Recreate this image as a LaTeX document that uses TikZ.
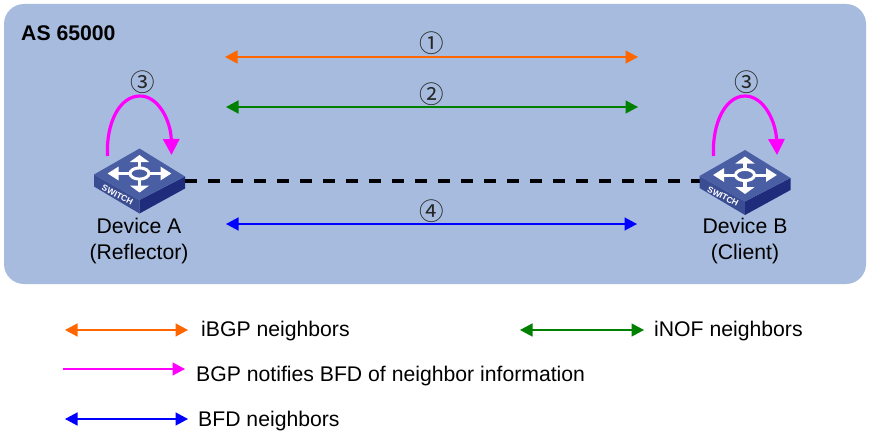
\documentclass[tikz,border=0pt]{standalone}
\usepackage{fontspec}
\setmainfont{Liberation Sans}
\newfontfamily\circfont{Noto Sans CJK SC}
\usetikzlibrary{arrows.meta}
\definecolor{panelblue}{HTML}{A6BBDD}
\definecolor{swtop}{HTML}{4A5EA3}
\definecolor{swleft}{HTML}{3A4C92}
\definecolor{swright}{HTML}{1F2B7B}
\definecolor{ibgporange}{HTML}{FF6600}
\definecolor{inofgreen}{HTML}{008000}
\definecolor{notifypink}{HTML}{FF00FF}
\definecolor{bfdblue}{HTML}{0000FF}
\begin{document}
\begin{tikzpicture}[
  x=1pt,
  y=-1pt,
  font=\fontsize{21.2}{26}\selectfont,
  panel/.style={fill=panelblue, rounded corners=20pt},
  both/.style={line width=1.5pt, {Triangle[length=12.5pt,width=13pt]}-{Triangle[length=12.5pt,width=13pt]}},
  one/.style={line width=1.5pt, -{Triangle[length=12.5pt,width=13pt]}},
  notify/.style={notifypink, line width=3.2pt, -{Triangle[length=16pt,width=16pt]}},
  link/.style={black, line width=3.6pt, dash pattern=on 12pt off 11pt},
  step label/.style={font=\circfont\fontsize{24.5}{26}\selectfont, text=black!85},
  device/.style={align=center, inner sep=0pt},
  legend/.style={anchor=west, inner sep=0pt},
  warrowv/.style={white, line width=3.4pt, -{Triangle[length=7pt,width=19pt]}},
  warrowh/.style={white, line width=3pt, -{Triangle[length=11pt,width=13pt]}},
  switchicon/.pic={
    \fill[swleft] (-45.5,0) -- (0,25.5) -- (0,39) -- (-45.5,12) -- cycle;
    \fill[swright] (45.5,2) -- (0,25.5) -- (0,39) -- (45.5,14) -- cycle;
    \fill[swtop] (0,-26) -- (45.5,2) -- (0,25.5) -- (-45.5,0) -- cycle;
    \draw[warrowv] (0,-7) -- (0,-19.5);
    \draw[warrowv] (0,5) -- (0,18);
    \draw[warrowh] (-10,-1) -- (-32,-1);
    \draw[warrowh] (10,-1) -- (32,-1);
    \draw[white, line width=3pt] (0,-1) ellipse (9.5pt and 5.6pt);
    \node[white, rotate=-27, font=\bfseries\fontsize{8.5}{9}\selectfont, inner sep=0pt] (-name) at (-22,20.5) {SWITCH};
  },
]
  \useasboundingbox (0,0) rectangle (870,436);
  \fill[panel] (4,4) rectangle (866,284);
  \node[anchor=west, inner sep=0pt, font=\bfseries\fontsize{21.2}{26}\selectfont] (asname) at (21,33) {AS 65000};

  % devices
  \coordinate (linka) at (185,181);
  \coordinate (linkb) at (700,181);
  \draw[link] (linka) -- (linkb);
  \pic (deva) at (139.5,174.5) {switchicon};
  \pic (devb) at (745,176) {switchicon};
  \node[device] (devalabel) at (139,241) {Device A\\(Reflector)};
  \node[device] (devblabel) at (745,241) {Device B\\(Client)};

  % neighbor arrows
  \coordinate (ibgpl) at (225,57);
  \coordinate (ibgpr) at (638,57);
  \coordinate (inofl) at (226,107);
  \coordinate (inofr) at (638,107);
  \coordinate (bfdl) at (226,224);
  \coordinate (bfdr) at (637,224);
  \draw[both, ibgporange] (ibgpl) -- (ibgpr);
  \draw[both, inofgreen] (inofl) -- (inofr);
  \draw[both, bfdblue] (bfdl) -- (bfdr);
  \node[step label] (stepa) at (431.5,43) {①};
  \node[step label] (stepb) at (431.5,94) {②};
  \node[step label] (stepd) at (431.5,211) {④};

  % notify curves
  \coordinate (notastart) at (107.5,156);
  \coordinate (notaend) at (171.5,155);
  \coordinate (notbstart) at (713.5,156);
  \coordinate (notbend) at (777,155);
  \draw[notify] (notastart) .. controls (106,122) and (120,96) .. (140,96) .. controls (159,96) and (171,122) .. (notaend);
  \draw[notify] (notbstart) .. controls (712,122) and (726,96) .. (745,96) .. controls (764,96) and (776,122) .. (notbend);
  \node[step label] (stepca) at (143,82) {③};
  \node[step label] (stepcb) at (746.5,82) {③};

  % legend
  \coordinate (legibgpl) at (65,330);
  \coordinate (legibgpr) at (188,330);
  \coordinate (leginofl) at (520,330);
  \coordinate (leginofr) at (644,330);
  \coordinate (legnotl) at (63,369);
  \coordinate (legnotr) at (185,369);
  \coordinate (legbfdl) at (65,419);
  \coordinate (legbfdr) at (188,419);
  \draw[both, ibgporange] (legibgpl) -- (legibgpr);
  \draw[both, inofgreen] (leginofl) -- (leginofr);
  \draw[one, notifypink] (legnotl) -- (legnotr);
  \draw[both, bfdblue] (legbfdl) -- (legbfdr);
  \node[legend] (legibgp) at (201,331.5) {iBGP neighbors};
  \node[legend] (leginof) at (654,331.5) {iNOF neighbors};
  \node[legend] (legnot) at (196,376) {BGP notifies BFD of neighbor information};
  \node[legend] (legbfd) at (198,421) {BFD neighbors};
\end{tikzpicture}
\end{document}
